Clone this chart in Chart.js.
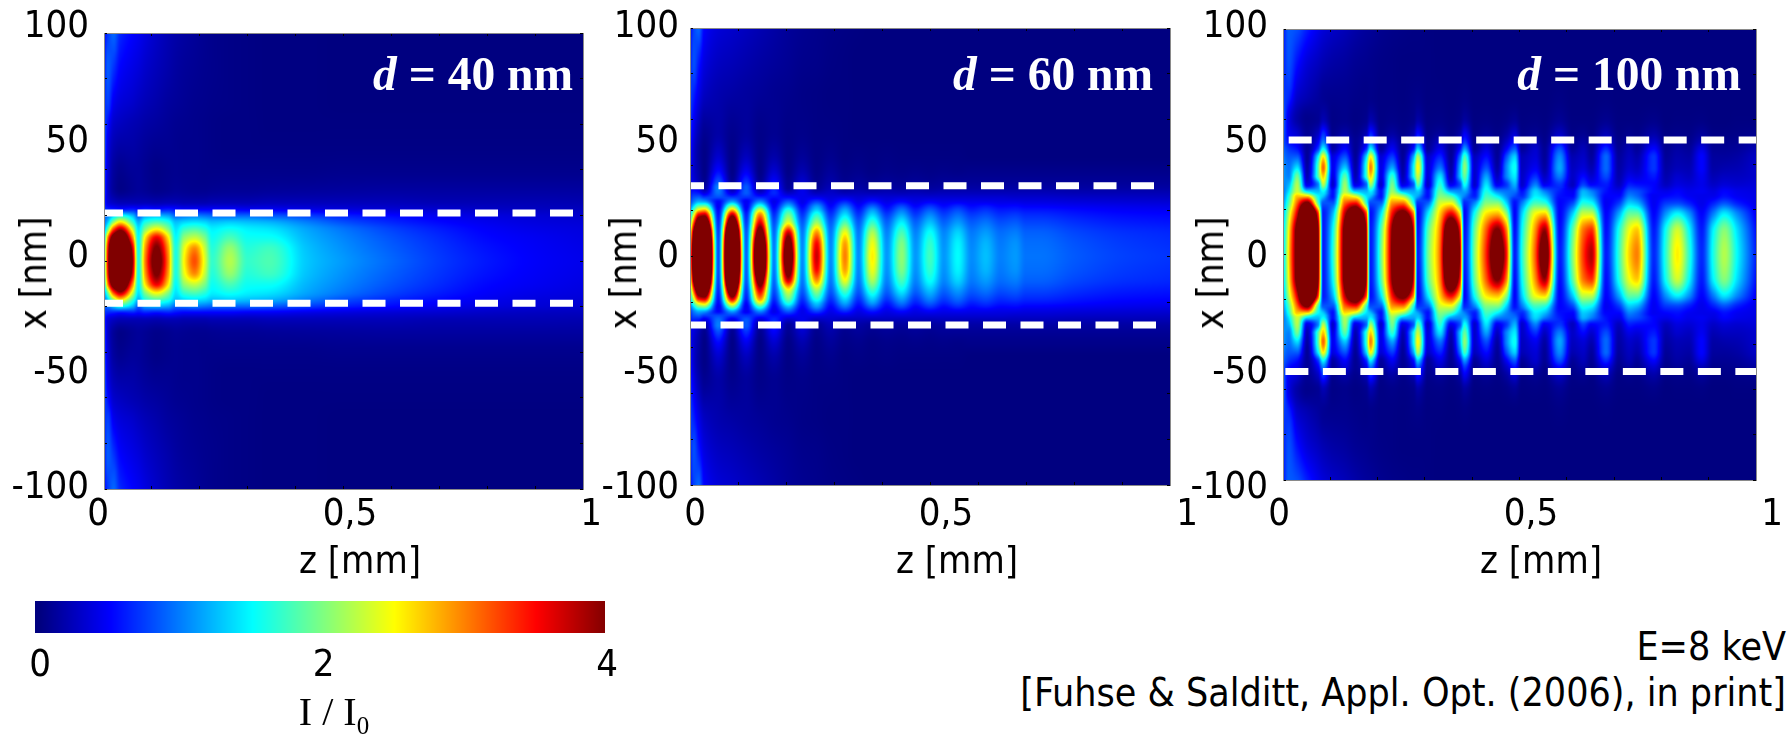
<!DOCTYPE html>
<html>
<head>
<meta charset="utf-8">
<title>Waveguide field intensity</title>
<script src="https://cdn.jsdelivr.net/npm/chart.js@4/dist/chart.umd.min.js"></script>
<style>
    html, body { margin: 0; padding: 0; background: #fff; }
    body { position: relative; width: 1788px; height: 736px; overflow: hidden; }
    canvas { position: absolute; }
    .t { position: absolute; white-space: nowrap; font-family: 'DejaVu Sans Condensed', 'DejaVu Sans', sans-serif; font-size: 38px; line-height: 40px; color: #000; transform: translate(-50%, -50%); }
    .t.rot { transform: translate(-50%, -50%) rotate(-90deg); }
    .d { position: absolute; white-space: nowrap; font-family: 'Liberation Serif', serif; font-weight: bold; font-size: 47.5px; line-height: 47px; color: #fff; z-index: 2; }
    .r { position: absolute; right: 2px; white-space: nowrap; font-family: 'DejaVu Sans Condensed', 'DejaVu Sans', sans-serif; font-size: 39px; line-height: 40px; color: #000; }
    .s { position: absolute; white-space: nowrap; font-family: 'Liberation Serif', serif; font-size: 40px; line-height: 40px; color: #000; transform: translateX(-50%); }
    .s sub { font-size: 25px; line-height: 0; }
</style>
</head>
<body>
<script>
// tick labels
const zTickLabels = ['0', '0,5', '1'];
const xTickLabels = ['100', '50', '0', '-50', '-100'];
const cbTickLabels = ['0', '2', '4'];
const cbTickValues = [0, 2, 4];

// guide edges, nm
const p1Edges = [21, -18.5];
const p2Edges = [31, -30];
const p3Edges = [50.8, -51.9];

// colour bar levels
const cbLevels = [0, 0.25, 0.5, 0.75, 1, 1.25, 1.5, 1.75, 2, 2.25, 2.5, 2.75, 3, 3.25, 3.5, 3.75, 4];
const cbRows = [0, 1];

// d = 40 nm. I/I0, rows run from x=0 outwards (the map is mirror symmetric)
const p1Z = [0, .008, .02, .034, .06, .072, .086, .11, .134, .15, .168, .189, .21, .226, .263, .30, .345, .42, .5, .6, .7, .8, .9, 1];
const p1X = [0, 5, 10, 14, 17, 19.5, 23, 26, 32, 40, 50, 60, 70, 85, 100];
const p1I = [
    [1.4, 3.6, 5.6, 6, 3.9, 1.6, 3, 4.3, 3, 1.6, 2.55, 3.2, 2.4, 1.7, 2.2, 1.7, 1.8, 1.3, 1.1, .9, .72, .58, .48, .42],
    [1.4, 3.5, 5.4, 5.8, 3.7, 1.55, 2.9, 4.1, 2.9, 1.6, 2.45, 3, 2.3, 1.65, 2.1, 1.65, 1.75, 1.28, 1.07, .87, .7, .56, .47, .41],
    [1.2, 3, 4.5, 5, 3, 1.5, 2.6, 3.6, 2.6, 1.5, 2.1, 2.3, 2, 1.55, 1.8, 1.55, 1.55, 1.22, 1.02, .82, .66, .52, .45, .39],
    [1, 1.9, 3.2, 3.8, 2.3, 1.4, 2, 2.5, 2, 1.4, 1.7, 1.8, 1.65, 1.45, 1.55, 1.45, 1.4, 1.15, .95, .75, .6, .48, .41, .37],
    [.9, 1.3, 2.1, 2.6, 1.7, 1.2, 1.6, 1.8, 1.6, 1.25, 1.35, 1.4, 1.35, 1.25, 1.3, 1.25, 1.2, 1, .8, .64, .52, .43, .37, .34],
    [.85, 1, 1.4, 1.7, 1.3, .9, 1.2, 1.3, 1.2, .95, 1, 1.05, 1, .95, .95, .95, .9, .78, .64, .54, .45, .38, .34, .31],
    [.7, .6, .55, .5, .55, .5, .55, .5, .55, .5, .45, .45, .45, .45, .45, .42, .42, .38, .35, .32, .3, .27, .25, .24],
    [.7, .35, .25, .2, .2, .2, .2, .18, .2, .2, .18, .18, .18, .2, .2, .2, .22, .22, .22, .22, .2, .2, .2, .19],
    [.8, .3, .1, .03, .08, .1, .08, .04, .06, .08, .07, .06, .06, .07, .08, .08, .09, .1, .11, .12, .12, .12, .12, .12],
    [.8, .35, .12, .06, .1, .1, .07, .03, .05, .06, .05, .05, .04, .04, .04, .04, .04, .04, .05, .05, .05, .05, .05, .05],
    [.9, .4, .2, .15, .15, .13, .1, .07, .07, .06, .05, .05, .04, .03, .02, .02, .02, .02, .02, .02, .02, .02, .02, .02],
    [.8, .55, .3, .25, .2, .18, .15, .12, .09, .07, .06, .05, .04, .03, .02, .02, .01, .01, .01, .01, .01, .01, .01, .01],
    [.65, .75, .45, .36, .3, .26, .22, .17, .12, .1, .08, .06, .05, .04, .03, .02, .01, .01, 0, 0, 0, 0, 0, 0],
    [.55, .85, .7, .5, .4, .36, .3, .23, .17, .13, .1, .08, .06, .05, .03, .02, .01, .01, 0, 0, 0, 0, 0, 0],
    [.5, .7, .9, .65, .5, .45, .38, .28, .2, .16, .13, .1, .07, .05, .03, .02, .01, .01, 0, 0, 0, 0, 0, 0]
];

// d = 60 nm
const p2Z = [0, .008, .018, .03, .059, .088, .117, .146, .175, .205, .234, .264, .293, .323, .351, .38, .41, .441, .47, .5, .529, .558, .587, .616, .647, .678, .70, .73, .8, .9, 1];
const p2X = [0, 5, 10, 15, 18.7, 20.5, 22, 24, 26, 28, 30, 33, 38, 45, 55, 70, 85, 100];
const p2I = [
    [2.5, 5, 7.5, 8, .8, 8, .9, 5.8, 1, 4.8, 1.05, 3.7, 1.05, 3, 1.05, 2.55, 1.1, 2.05, 1.1, 1.75, 1.1, 1.5, 1.05, 1.25, 1, 1.1, .95, .95, .85, .75, .7],
    [2.4, 4.8, 7.2, 7.7, .8, 7.7, .88, 5.5, .98, 4.5, 1.03, 3.55, 1.03, 2.9, 1.03, 2.45, 1.08, 2, 1.08, 1.7, 1.08, 1.47, 1.03, 1.22, .98, 1.08, .93, .93, .83, .73, .68],
    [2.1, 4.3, 6.4, 6.8, .75, 6.8, .85, 4.6, .92, 3.8, .98, 3, .98, 2.5, .98, 2.2, 1.02, 1.8, 1.02, 1.55, 1.03, 1.35, .98, 1.12, .93, 1, .88, .88, .78, .69, .65],
    [1.6, 3.2, 4.7, 5, .65, 5, .72, 3.6, .8, 2.4, .85, 2.1, .85, 1.8, .85, 1.7, .88, 1.45, .88, 1.25, .88, 1.1, .85, .95, .8, .85, .76, .76, .68, .6, .57],
    [1.2, 2.3, 3.4, 3.6, .55, 3.6, .6, 2.9, .65, 1.9, .68, 1.6, .68, 1.35, .68, 1.3, .7, 1.12, .7, 1, .72, .9, .7, .78, .66, .7, .64, .64, .58, .52, .5],
    [1, 1.8, 2.5, 2.7, .5, 2.7, .5, 2.3, .55, 1.6, .58, 1.3, .58, 1.15, .58, 1.1, .58, .95, .6, .85, .62, .78, .6, .68, .58, .6, .56, .56, .52, .47, .45],
    [.85, 1.4, 1.9, 2, .45, 2, .45, 1.7, .48, 1.25, .5, 1.1, .5, .95, .5, .88, .5, .78, .5, .7, .52, .65, .52, .58, .5, .52, .48, .48, .45, .42, .4],
    [.7, 1, 1.2, 1.15, .5, 1.15, .45, 1.05, .42, .85, .42, .75, .42, .65, .4, .58, .4, .52, .4, .48, .42, .45, .42, .42, .4, .4, .38, .38, .36, .34, .33],
    [.6, .8, .85, .7, .8, .7, .7, .62, .55, .5, .42, .42, .35, .38, .32, .36, .32, .34, .32, .32, .32, .32, .32, .32, .32, .3, .3, .3, .28, .27, .26],
    [.55, .6, .55, .35, .95, .35, .85, .3, .65, .25, .42, .22, .28, .2, .22, .2, .22, .2, .22, .2, .22, .22, .22, .22, .22, .22, .22, .22, .2, .2, .2],
    [.5, .45, .35, .15, 1, .15, .85, .12, .6, .1, .38, .1, .22, .1, .15, .1, .14, .12, .14, .12, .14, .14, .15, .15, .15, .15, .15, .15, .14, .14, .14],
    [.45, .35, .2, .06, .8, .07, .68, .07, .48, .07, .3, .06, .16, .06, .1, .06, .09, .07, .09, .07, .09, .09, .09, .09, .09, .09, .09, .09, .09, .09, .09],
    [.5, .3, .15, .03, .5, .03, .42, .03, .3, .03, .18, .03, .1, .03, .05, .02, .04, .03, .04, .03, .04, .03, .04, .04, .04, .04, .04, .04, .04, .04, .04],
    [.55, .3, .12, .03, .28, .03, .22, .03, .15, .02, .09, .02, .05, .01, .02, .01, .02, .01, .01, .01, .01, .01, 0, 0, 0, 0, 0, 0, 0, 0, 0],
    [.65, .4, .2, .08, .15, .06, .11, .04, .07, .03, .04, .02, .02, .01, 0, 0, 0, 0, 0, 0, 0, 0, 0, 0, 0, 0, 0, 0, 0, 0, 0],
    [.75, .6, .4, .25, .18, .14, .12, .09, .07, .05, .03, .02, .01, .01, 0, 0, 0, 0, 0, 0, 0, 0, 0, 0, 0, 0, 0, 0, 0, 0, 0],
    [.6, .8, .6, .38, .26, .22, .18, .14, .11, .08, .05, .04, .02, .01, 0, 0, 0, 0, 0, 0, 0, 0, 0, 0, 0, 0, 0, 0, 0, 0, 0],
    [.5, .75, .9, .5, .35, .3, .25, .2, .15, .1, .07, .05, .03, .02, .01, 0, 0, 0, 0, 0, 0, 0, 0, 0, 0, 0, 0, 0, 0, 0, 0]
];

// d = 100 nm, columns grouped by fringe
const p3Z = [0, .012,
    .03, .051, .074, .085, .105,
    .131, .153, .176, .185, .207,
    .231, .253, .276, .285, .306,
    .332, .355, .374, .384, .405,
    .43, .453, .472, .49, .505,
    .534, .553, .585, .612,
    .635, .652, .683, .71,
    .733, .748, .784, .81,
    .834, .858, .885, .91,
    .933, .96, 1];
const p3X = [0, 10, 18, 23, 26, 28, 31, 35, 38.5, 43, 47, 50, 54, 60, 70, 85, 100];
const p3I = [
    [1.2, 2.6, 4.5, 8, 4.2, .6, 1.6, 4.5, 8, 4, .6, 1.9, 4.2, 7.5, 3.9, .6, 1.9, 3.1, 6, 3.9, .6, 2, 3.4, 4.7, 3.5, .6, 1.6, 3.2, 4.6, .6, 2, 3.3, 3.8, .6, 1.7, 2.7, 3, .65, 1.7, 2.55, 1.7, .65, 1.6, 2.2, 1.5, .6],
    [1.2, 2.5, 4.4, 7, 4.1, .6, 1.5, 4.4, 7, 3.9, .6, 1.8, 4.1, 6.6, 3.7, .55, 1.8, 3, 5.2, 3.6, .55, 1.9, 3.2, 4.15, 3.1, .55, 1.5, 3, 4, .55, 1.85, 3.1, 3.4, .55, 1.6, 2.5, 2.75, .6, 1.6, 2.35, 1.55, .6, 1.5, 2.05, 1.4, .55],
    [1.1, 2.2, 3.7, 6, 3.4, .6, 1.2, 3.8, 5, 3.3, .55, 1.4, 3.5, 4.4, 3, .5, 1.4, 2.7, 3.6, 2.6, .5, 1.55, 2.6, 2.8, 2.1, .5, 1.3, 2.5, 2.7, .5, 1.3, 2.3, 2.3, .5, 1.15, 1.9, 1.9, .5, 1.1, 1.5, 1.1, .5, 1, 1.45, 1.05, .45],
    [1, 1.8, 3.1, 4.1, 1.8, .85, .8, 3.1, 3.4, 1.7, .8, .85, 2.9, 3, 1.6, .7, .85, 2.3, 2.4, 1.5, .65, 1, 2, 2, 1.35, .55, .95, 1.75, 1.65, .5, .75, 1.6, 1.5, .45, .7, 1.3, 1.2, .45, .7, .75, .6, .42, .6, .8, .6, .4],
    [.9, 1.6, 2.7, 2.6, 1.5, 1.3, .55, 2.6, 2.3, 1.4, 1.25, .55, 2.4, 2.1, 1.3, 1.15, .55, 2, 1.75, 1.2, 1, .6, 1.75, 1.45, 1.05, .8, .65, 1.45, 1.25, .55, .5, 1.3, 1.15, .5, .5, 1, .9, .45, .5, .55, .45, .42, .42, .55, .45, .4],
    [.9, 1.4, 2.3, 1.4, 1.25, 1.5, .55, 2.2, 1.3, 1.2, 1.45, .55, 2.1, 1.25, 1.15, 1.3, .55, 1.85, 1.15, 1.05, 1.15, .55, 1.6, 1.05, .95, .95, .55, 1.35, 1, .6, .45, 1.2, 1, .55, .42, .85, .8, .5, .42, .5, .42, .45, .38, .5, .42, .38],
    [1, 1.2, 2.2, .4, 1, 2.2, .3, 2.1, .4, .9, 2.1, .3, 1.95, .4, .85, 1.85, .3, 1.65, .45, .8, 1.55, .3, 1.4, .45, .7, 1.2, .3, 1, .45, .7, .25, .75, .5, .6, .25, .6, .55, .5, .25, .38, .34, .42, .28, .35, .32, .35],
    [1.1, 1, 1.9, .2, 1.8, 2.75, .4, 1.8, .2, 1.7, 2.7, .4, 1.65, .2, 1.5, 2.3, .35, 1.35, .2, 1.25, 1.9, .3, 1.1, .25, 1, 1.45, .28, .65, .25, 1, .28, .5, .3, .8, .18, .4, .35, .6, .18, .3, .25, .45, .2, .25, .25, .3],
    [1.1, .95, 1.4, .15, 1.8, 3.1, .45, 1.3, .15, 1.7, 3, .4, 1.15, .15, 1.5, 2.5, .35, .95, .15, 1.2, 2.05, .3, .8, .15, 1, 1.55, .25, .45, .15, 1.15, .25, .35, .2, .9, .15, .3, .25, .7, .14, .22, .2, .5, .15, .18, .2, .3],
    [1, .85, .9, .1, 1.5, 2.6, .4, .85, .1, 1.4, 2.55, .35, .75, .1, 1.2, 2.2, .3, .65, .1, .95, 1.8, .25, .55, .1, .8, 1.35, .22, .35, .1, 1.05, .2, .28, .12, .9, .12, .25, .18, .7, .1, .18, .15, .5, .12, .12, .15, .28],
    [.9, .7, .55, .1, .7, 1.5, .15, .5, .08, .65, 1.45, .12, .45, .08, .55, 1.3, .1, .4, .08, .5, 1.1, .1, .35, .08, .45, .85, .1, .3, .08, .8, .1, .22, .08, .65, .08, .2, .1, .5, .07, .14, .1, .38, .08, .08, .1, .2],
    [.85, .55, .4, .1, .45, 1, .1, .35, .08, .4, .95, .08, .3, .07, .35, .85, .07, .27, .06, .3, .7, .06, .22, .06, .27, .55, .05, .2, .05, .5, .06, .15, .05, .4, .05, .12, .06, .32, .04, .09, .06, .22, .05, .05, .07, .12],
    [.9, .45, .3, .08, .25, .65, .05, .15, .05, .2, .6, .04, .13, .04, .17, .5, .04, .1, .03, .14, .42, .03, .08, .03, .12, .3, .03, .07, .03, .25, .03, .06, .02, .2, .02, .05, .03, .15, .02, .04, .03, .1, .02, .02, .03, .05],
    [.95, .4, .15, .05, .08, .2, .03, .05, .02, .06, .18, .02, .04, .02, .05, .15, .02, .03, .01, .04, .12, .01, .02, .01, .03, .08, .01, .02, .01, .08, .01, .01, .01, .06, .01, .01, .01, .04, 0, .01, .01, .02, 0, 0, .01, .01],
    [.75, .65, .3, .2, .12, .08, .06, .06, .04, .03, .04, .02, .02, .01, .03, .04, .01, .01, 0, .01, .02, 0, 0, 0, 0, 0, 0, 0, 0, .02, 0, 0, 0, .01, 0, 0, 0, 0, 0, 0, 0, 0, 0, 0, 0, 0],
    [.6, .8, .55, .35, .25, .2, .15, .12, .08, .06, .05, .03, .02, .01, .01, .01, .01, 0, 0, 0, 0, 0, 0, 0, 0, 0, 0, 0, 0, 0, 0, 0, 0, 0, 0, 0, 0, 0, 0, 0, 0, 0, 0, 0, 0, 0],
    [.55, .85, .8, .6, .42, .35, .28, .22, .16, .11, .1, .06, .04, .03, .02, .02, .01, 0, 0, 0, 0, 0, 0, 0, 0, 0, 0, 0, 0, 0, 0, 0, 0, 0, 0, 0, 0, 0, 0, 0, 0, 0, 0, 0, 0, 0]
];

// page geometry of each panel, colours
const frameGray = '#8a8a8a';
const axisFont = { family: "'DejaVu Sans Condensed', 'DejaVu Sans', sans-serif", size: 38 };
const panels = [
    { id: 1, zs: p1Z, xs: p1X, rows: p1I, edges: p1Edges, L: 104, R: 583, T: 33, B: 489, pad: 15, zPx: [98, 350, 591], dash: [[0, 0.988, 4], [0, 0.988, 4]] },
    { id: 2, zs: p2Z, xs: p2X, rows: p2I, edges: p2Edges, L: 690, R: 1170, T: 28, B: 485, pad: 11, zPx: [695, 946, 1187], dash: [[0, 0.975, 9], [0, 0.977, 7]] },
    { id: 3, zs: p3Z, xs: p3X, rows: p3I, edges: p3Edges, L: 1283, R: 1756, T: 29, B: 480, pad: 15, zPx: [1279, 1531, 1772], dash: [[0.012, 1, 0], [0.005, 1, 0]] }
];

function jet(v) {
    const t = Math.min(1, Math.max(0, v / 4));
    const c = k => Math.round(255 * Math.min(1, Math.max(0, 1.5 - Math.abs(4 * t - k))));
    return [c(3), c(2), c(1)];
}

// monotone cubic through (xs, ys), evaluated at qs
function pchip(xs, ys, qs, out) {
    const n = xs.length;
    const s = [], m = new Array(n).fill(0);
    for (let i = 0; i < n - 1; i++) s[i] = (ys[i + 1] - ys[i]) / (xs[i + 1] - xs[i]);
    for (let i = 1; i < n - 1; i++) {
        if (s[i - 1] * s[i] > 0) m[i] = 2 * s[i - 1] * s[i] / (s[i - 1] + s[i]);
    }
    m[0] = s[0];
    m[n - 1] = s[n - 2];
    let k = 0;
    qs.forEach((q, idx) => {
        while (k < n - 2 && q > xs[k + 1]) k++;
        while (k > 0 && q < xs[k]) k--;
        const h = xs[k + 1] - xs[k];
        const t = Math.min(1, Math.max(0, (q - xs[k]) / h));
        const t2 = t * t, t3 = t2 * t;
        out[idx] = (2 * t3 - 3 * t2 + 1) * ys[k] + (t3 - 2 * t2 + t) * h * m[k] + (-2 * t3 + 3 * t2) * ys[k + 1] + (t3 - t2) * h * m[k + 1];
    });
    return out;
}

// paints the grid of the first dataset, pixel positions come from the chart's scales
function heatmapPlugin(zs, xs, rows) {
    return {
        id: 'heatmap',
        beforeDatasetsDraw(chart) {
            const { ctx, chartArea: a, scales } = chart;
            const w = Math.round(a.right - a.left), h = Math.round(a.bottom - a.top);
            const zq = [], xq = [];
            for (let i = 0; i < w; i++) zq.push(scales.x.getValueForPixel(a.left + i + 0.5));
            for (let i = 0; i < h; i++) xq.push(scales.y.getValueForPixel(a.top + i + 0.5));
            const cols = zs.map((_, j) => pchip(xs, rows.map(r => r[j]), xq, new Float32Array(h)));
            const off = document.createElement('canvas');
            off.width = w;
            off.height = h;
            const octx = off.getContext('2d');
            const img = octx.createImageData(w, h);
            const line = new Float32Array(w);
            for (let py = 0; py < h; py++) {
                pchip(zs, cols.map(c => c[py]), zq, line);
                for (let px = 0; px < w; px++) {
                    const [r, g, b] = jet(line[px]);
                    const o = (py * w + px) * 4;
                    img.data[o] = r;
                    img.data[o + 1] = g;
                    img.data[o + 2] = b;
                    img.data[o + 3] = 255;
                }
            }
            octx.putImageData(img, 0, 0);
            ctx.drawImage(off, Math.round(a.left), Math.round(a.top));
        }
    };
}

function addCanvas(left, top, width, height) {
    const c = document.createElement('canvas');
    c.width = width;
    c.height = height;
    c.style.left = left + 'px';
    c.style.top = top + 'px';
    document.body.appendChild(c);
    return c.getContext('2d');
}

function addText(cls, html, css) {
    const el = document.createElement('div');
    el.className = cls;
    el.innerHTML = html;
    Object.assign(el.style, css);
    document.body.appendChild(el);
}

// fixes an axis box and stops its labels from pushing the plot area around
const fixedSize = (prop, size) => axis => {
    axis[prop] = size;
    axis.paddingTop = axis.paddingBottom = axis.paddingLeft = axis.paddingRight = 0;
};

function createPanel(p) {
    const leftMargin = 100, rightMargin = p.id === 3 ? 32 : 40, bottomMargin = 60;
    const ctx = addCanvas(p.L - leftMargin, 0, p.R - p.L + leftMargin + rightMargin, p.B + bottomMargin);

    // the map is symmetric, so the rows are read for x >= 0 and mirrored
    const fullX = [...p.xs.slice(1).map(v => -v).reverse(), ...p.xs];
    const fullRows = [...p.rows.slice(1).reverse(), ...p.rows];
    const cells = [];
    fullX.forEach((x, i) => p.zs.forEach((z, j) => cells.push({ x: z, y: x, v: fullRows[i][j] })));

    const innerTicks = { drawOnChartArea: false, tickLength: -3, tickColor: '#000', tickWidth: 1, z: 1 };
    const frame = { color: frameGray, width: 1, z: 1 };
    const ruler = (position, stepSize, min, max, prop) => ({
        type: 'linear', position, min, max, weight: -1,
        grid: innerTicks, border: frame,
        ticks: { display: false, stepSize, autoSkip: false },
        afterFit: fixedSize(prop, 0)
    });

    // tick labels sit slightly off the ticks in the original, so they get their own axes
    const zSpan = p.zPx[2] - p.zPx[0];
    const zMin = (p.L - p.zPx[0]) / zSpan, zMax = (p.R - p.zPx[0]) / zSpan;
    const xAt = px => 100 - 200 * (px - 27) / (488 - 27);

    return new Chart(ctx, {
        type: 'scatter',
        data: {
            datasets: [
                { label: 'I / I0', data: cells, pointRadius: 0, showLine: false },
                ...p.edges.map((e, i) => ({
                    label: 'edge', showLine: true, pointRadius: 0,
                    data: [{ x: p.dash[i][0], y: e }, { x: p.dash[i][1], y: e }],
                    borderColor: '#fff', borderWidth: 7, borderDash: [23, 14.5], borderDashOffset: p.dash[i][2]
                }))
            ]
        },
        options: {
            responsive: false,
            animation: false,
            events: [],
            devicePixelRatio: 1,
            layout: { padding: { left: 0, right: rightMargin, top: p.T, bottom: 0 } },
            plugins: { legend: { display: false }, tooltip: { enabled: false } },
            scales: {
                x: ruler('bottom', 0.1, 0, 1, 'height'),
                xt: ruler('top', 0.1, 0, 1, 'height'),
                y: ruler('left', 20, -100, 100, 'width'),
                yr: ruler('right', 20, -100, 100, 'width'),
                xl: {
                    type: 'linear', axis: 'x', position: 'bottom', min: zMin, max: zMax,
                    grid: { display: false, drawTicks: false }, border: { display: false },
                    afterBuildTicks: axis => { axis.ticks = p.zPx.map(px => ({ value: (px - p.zPx[0]) / zSpan })); },
                    ticks: { autoSkip: false, maxRotation: 0, padding: 515 - 23 - p.B, color: '#000', font: axisFont, callback: (v, i) => zTickLabels[i] },
                    afterFit: fixedSize('height', bottomMargin)
                },
                yl: {
                    type: 'linear', axis: 'y', position: 'left', min: xAt(p.B), max: xAt(p.T),
                    grid: { display: false, drawTicks: false }, border: { display: false },
                    afterBuildTicks: axis => { axis.ticks = [100, 50, 0, -50, -100].map(value => ({ value })); },
                    ticks: { autoSkip: false, maxRotation: 0, padding: p.pad, color: '#000', font: axisFont, callback: (v, i) => xTickLabels[i] },
                    afterFit: fixedSize('width', leftMargin)
                }
            }
        },
        plugins: [heatmapPlugin(p.zs, fullX, fullRows)]
    });
}

function createColorBar() {
    const ctx = addCanvas(0, 590, 650, 100);
    const cells = [];
    cbRows.forEach(r => cbLevels.forEach(v => cells.push({ x: v, y: r, v })));
    const rowGrid = cbRows.map(() => cbLevels);
    const toV = px => (px - 40) / (607 - 40) * 4;
    return new Chart(ctx, {
        type: 'scatter',
        data: { datasets: [{ label: 'I / I0', data: cells, pointRadius: 0 }] },
        options: {
            responsive: false,
            animation: false,
            events: [],
            devicePixelRatio: 1,
            layout: { padding: { left: 35, right: 45, top: 11, bottom: 0 } },
            plugins: { legend: { display: false }, tooltip: { enabled: false } },
            scales: {
                x: {
                    type: 'linear', position: 'bottom', min: toV(35), max: toV(605),
                    grid: { display: false, drawTicks: false }, border: { display: false },
                    afterBuildTicks: axis => { axis.ticks = cbTickValues.map(value => ({ value })); },
                    ticks: { autoSkip: false, maxRotation: 0, padding: 10, color: '#000', font: axisFont, callback: (v, i) => cbTickLabels[i] },
                    afterFit: fixedSize('height', 57)
                },
                y: { type: 'linear', display: false, min: 0, max: 1 }
            }
        },
        plugins: [heatmapPlugin(cbLevels, cbRows, rowGrid)]
    });
}

panels.forEach(createPanel);
createColorBar();

// annotations
addText('d', '<i>d</i> = 40 nm', { right: (1788 - 573) + 'px', top: '51px' });
addText('d', '<i>d</i> = 60 nm', { right: (1788 - 1153) + 'px', top: '51px' });
addText('d', '<i>d</i> = 100 nm', { right: (1788 - 1741) + 'px', top: '51px' });

[[33, 360], [623, 957], [1210, 1541]].forEach(([yx, zx]) => {
    addText('t rot', 'x [nm]', { left: yx + 'px', top: '273px' });
    addText('t', 'z [mm]', { left: zx + 'px', top: '560px' });
});

addText('s', 'I / I<sub>0</sub>', { left: '334px', top: '692px' });
addText('r', 'E=8 keV', { top: '627px' });
addText('r', '[Fuhse &amp; Salditt, Appl. Opt. (2006), in print]', { top: '673px' });
</script>
</body>
</html>
